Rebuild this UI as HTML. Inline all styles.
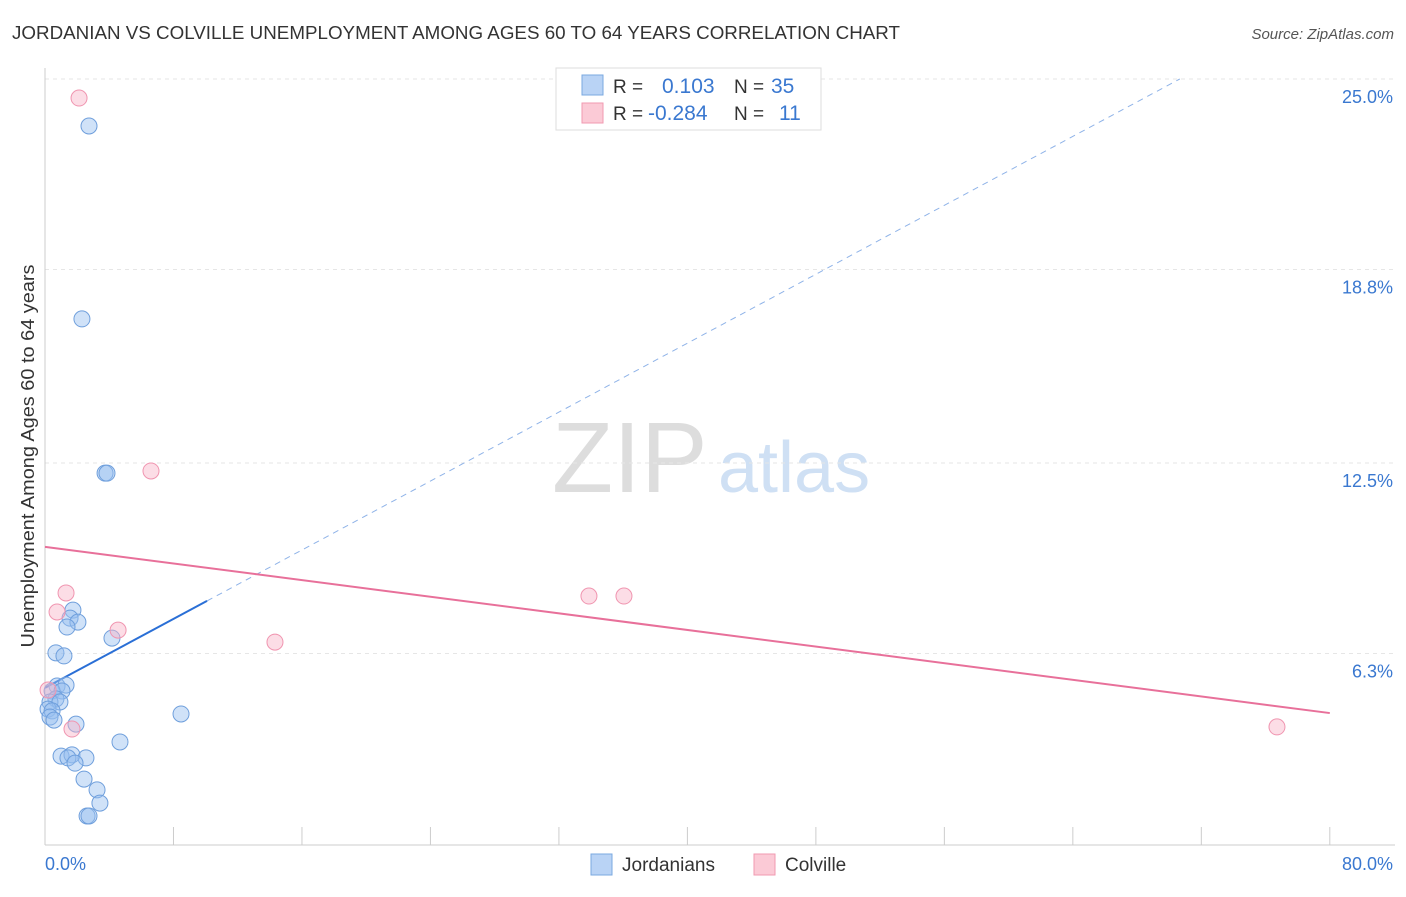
<!DOCTYPE html>
<html><head><meta charset="utf-8"><style>
body{margin:0;background:#fff;font-family:"Liberation Sans",sans-serif}
svg text{font-family:"Liberation Sans",sans-serif}
</style></head><body>
<svg id="chart" width="1406" height="892" xmlns="http://www.w3.org/2000/svg">
<text x="12" y="39" font-size="18.5" fill="#333" textLength="888" lengthAdjust="spacingAndGlyphs">JORDANIAN VS COLVILLE UNEMPLOYMENT AMONG AGES 60 TO 64 YEARS CORRELATION CHART</text>
<text x="1394" y="39" font-size="15" fill="#555" text-anchor="end" font-style="italic">Source: ZipAtlas.com</text>
<text x="552" y="492" font-size="100" fill="#ddd" font-family="Liberation Serif">ZIP</text>
<text x="718" y="492" font-size="72" fill="#cfe0f4">atlas</text>
<g id="grid"></g><g id="axes"></g><g id="lines"></g><g id="pts"></g>
<text x="34" y="456" font-size="18.5" fill="#333" text-anchor="middle" textLength="383" lengthAdjust="spacingAndGlyphs" transform="rotate(-90 34 456)">Unemployment Among Ages 60 to 64 years</text>
<g>
<rect x="556" y="68" width="265" height="62" fill="#fff" stroke="#ddd"/>
<rect x="582" y="75" width="21" height="20" fill="#b9d3f5" stroke="#7aa8e0"/>
<rect x="582" y="103" width="21" height="20" fill="#fbcad6" stroke="#f09ab0"/>
<text x="613" y="93" font-size="19" fill="#333">R =</text><text x="662" y="93" font-size="21" fill="#3a78d0">0.103</text>
<text x="734" y="93" font-size="19" fill="#333">N =</text><text x="771" y="93" font-size="21" fill="#3a78d0">35</text>
<text x="613" y="120" font-size="19" fill="#333">R =</text><text x="648" y="120" font-size="21" fill="#3a78d0">-0.284</text>
<text x="734" y="120" font-size="19" fill="#333">N =</text><text x="779" y="120" font-size="21" fill="#3a78d0">11</text>
</g>
<g>
<rect x="591" y="854" width="21" height="21" fill="#b9d3f5" stroke="#7aa8e0"/>
<text x="622" y="871" font-size="19" fill="#333">Jordanians</text>
<rect x="754" y="854" width="21" height="21" fill="#fbcad6" stroke="#f09ab0"/>
<text x="785" y="871" font-size="19" fill="#333">Colville</text>
</g>
</svg>
<script>
const yTicks=[6.3,12.5,18.8,25.0];
const yTickLabels=["6.3%","12.5%","18.8%","25.0%"];
const xLabels=["0.0%","80.0%"];
const blueX=[2.74,2.30,3.74,3.86,1.74,1.56,2.05,1.37,4.17,0.68,1.18,0.75,1.31,0.44,1.06,0.68,0.31,0.93,0.19,0.44,0.31,0.56,1.93,8.47,4.67,1.0,1.68,1.43,2.55,1.87,2.43,3.24,3.42,2.62,2.74];
const blueY=[23.47,17.19,12.17,12.17,7.71,7.45,7.32,7.16,6.80,6.32,6.22,5.24,5.27,5.08,5.08,4.82,4.72,4.72,4.49,4.43,4.23,4.13,4.0,4.33,3.42,2.96,3.0,2.90,2.90,2.73,2.21,1.86,1.43,1.01,1.01];
const pinkX=[2.12,6.6,1.31,0.75,4.55,14.32,33.87,36.05,1.68,76.71,0.19];
const pinkY=[24.38,12.24,8.27,7.65,7.06,6.67,8.17,8.17,3.84,3.91,5.11];
const blueTrend=[5.18,0.2805];
const pinkTrend=[9.77,4.36];
const NS="http://www.w3.org/2000/svg";
const X=v=>45+v*16.06, Y=v=>847-v*30.72;
function mk(tag,attrs,parent){const e=document.createElementNS(NS,tag);for(const k in attrs)e.setAttribute(k,attrs[k]);document.getElementById(parent).appendChild(e);return e;}
yTicks.forEach((t,i)=>{
 const g=mk('line',{x1:45,x2:1395,y1:Y(t),y2:Y(t),stroke:'#e6e6e6','stroke-dasharray':'4,4'},'grid');
 
 
 const l=mk('text',{x:1393,y:Y(t)+24,'font-size':18,fill:'#3a78d0','text-anchor':'end'},'grid');
 l.textContent=yTickLabels[i];
 
 
});
const ax=mk('line',{x1:45,x2:45,y1:68,y2:845,stroke:'#ccc'},'axes');


const bx=mk('line',{x1:45,x2:1395,y1:845,y2:845,stroke:'#ccc'},'axes');


for(let i=1;i<=10;i++){const t=mk('line',{x1:X(i*8),x2:X(i*8),y1:827,y2:845,stroke:'#ccc'},'axes');
 
 }
const xl0=mk('text',{x:45,y:870,'font-size':18,fill:'#3a78d0'},'axes');xl0.textContent=xLabels[0];


const xl1=mk('text',{x:1393,y:870,'font-size':18,fill:'#3a78d0','text-anchor':'end'},'axes');xl1.textContent=xLabels[1];


const bEnd=(25-blueTrend[0])/blueTrend[1];
const bd=mk('line',{x1:X(10.09),y1:Y(blueTrend[0]+blueTrend[1]*10.09),x2:X(bEnd),y2:Y(25),stroke:'#8fb3e8','stroke-dasharray':'6,5','stroke-width':1},'lines');


const bs=mk('line',{x1:X(0),y1:Y(blueTrend[0]),x2:X(10.09),y2:Y(blueTrend[0]+blueTrend[1]*10.09),stroke:'#2a6fd6','stroke-width':2},'lines');


const ps=mk('line',{x1:X(0),y1:Y(pinkTrend[0]),x2:X(80),y2:Y(pinkTrend[1]),stroke:'#e8709a','stroke-width':2},'lines');


blueX.forEach((v,i)=>{const c=mk('circle',{cx:X(v),cy:Y(blueY[i]),r:8,fill:'rgba(150,190,240,0.45)',stroke:'#6f9fdc','stroke-width':1},'pts');
 
 });
pinkX.forEach((v,i)=>{const c=mk('circle',{cx:X(v),cy:Y(pinkY[i]),r:8,fill:'rgba(248,180,200,0.45)',stroke:'#f095b0','stroke-width':1},'pts');
 
 });
</script>
</body></html>
